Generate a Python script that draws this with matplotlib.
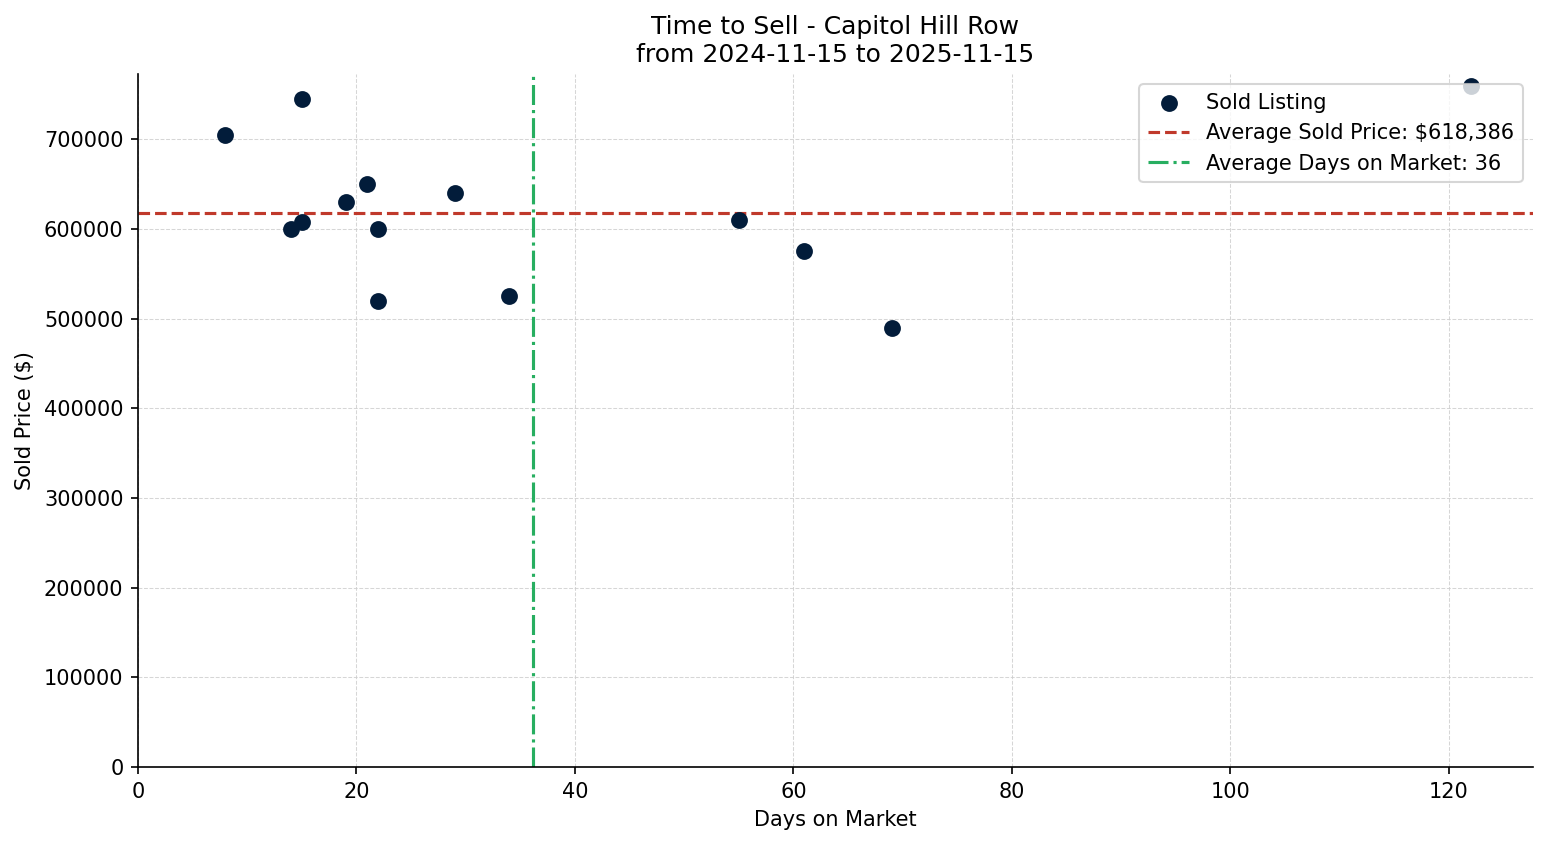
import matplotlib
matplotlib.use("Agg")
import matplotlib.pyplot as plt
import numpy as np

days_on_market = [8, 15, 14, 15, 19, 21, 22, 22, 29, 34, 55, 61, 69, 122]
sold_price = [705000, 745000, 600000, 608000, 630000, 650000, 600000, 520000,
              640000, 525000, 610000, 575000, 490000, 759404]

title = "Time to Sell - Capitol Hill Row\nfrom 2024-11-15 to 2025-11-15"

avg_price = np.mean(sold_price)
avg_days = np.mean(days_on_market)

fig = plt.figure(figsize=(1547/150, 845/150), dpi=150)
ax = fig.add_axes([138/1547, 1-767/845, (1533-138)/1547, (767-74)/845])

ax.scatter(days_on_market, sold_price, s=50, color="#021c3a", label="Sold Listing", zorder=3)
ax.axhline(avg_price, color="#c0392b", linestyle="--", linewidth=1.5,
           label=f"Average Sold Price: ${avg_price:,.0f}", zorder=2)
ax.axvline(avg_days, color="#27ae60", linestyle="-.", linewidth=1.5,
           label=f"Average Days on Market: {avg_days:.0f}", zorder=2)

ax.set_xlim(left=0)
ax.set_ylim(bottom=0)
ax.grid(True, linestyle="--", linewidth=0.5, color="#cccccc", alpha=0.8)
ax.set_axisbelow(True)
for s in ["top", "right"]:
    ax.spines[s].set_visible(False)
ax.ticklabel_format(style="plain", axis="y")
ax.set_xlabel("Days on Market")
ax.set_ylabel("Sold Price ($)")
ax.set_title(title)
ax.legend(loc="upper right")

fig.savefig("out.png", dpi=150)
